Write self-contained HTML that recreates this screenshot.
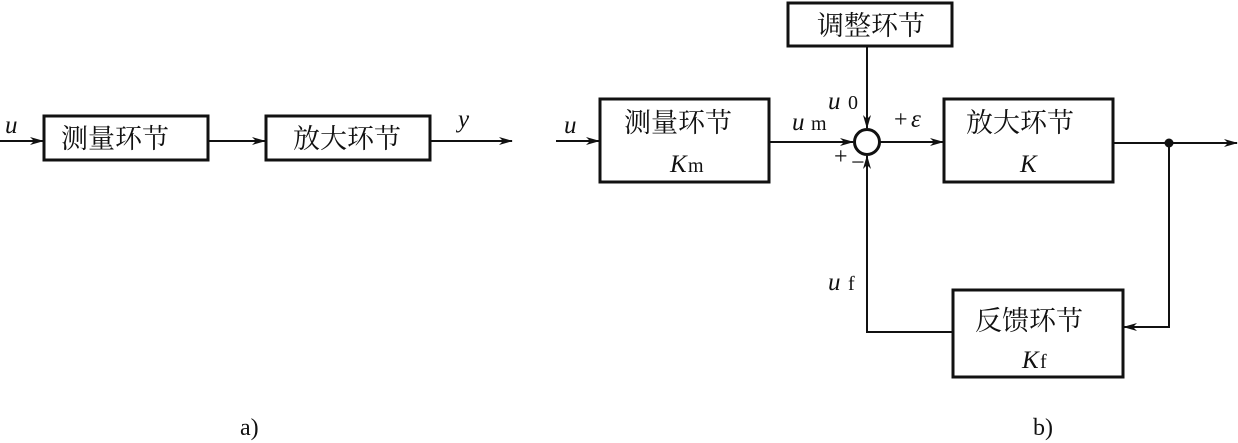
<!DOCTYPE html>
<html><head><meta charset="utf-8"><style>
body{margin:0;background:#fff;}
svg{display:block}
.cj{font-family:"Liberation Serif","Noto Serif CJK SC",serif;font-size:27px;fill:#111;}
.it{font-family:"Liberation Serif",serif;font-style:italic;font-size:25px;fill:#111;}
.rm{font-family:"Liberation Serif",serif;font-size:20px;fill:#111;}
</style></head><body>
<svg width="1238" height="443" viewBox="0 0 1238 443" xmlns="http://www.w3.org/2000/svg">
<defs><marker id="a" markerWidth="14" markerHeight="10" refX="13" refY="5" orient="auto" markerUnits="userSpaceOnUse"><path d="M0,1 L14,5 L0,9 L4,5 Z" fill="#111"/></marker></defs>
<g stroke="#111" fill="none">
<!-- a -->
<rect x="44" y="116" width="164" height="44" stroke-width="3"/>
<rect x="266" y="116" width="164" height="44" stroke-width="3"/>
<line x1="0" y1="141" x2="43" y2="141" stroke-width="2" marker-end="url(#a)"/>
<line x1="208" y1="141" x2="265" y2="141" stroke-width="2" marker-end="url(#a)"/>
<line x1="430" y1="141" x2="512" y2="141" stroke-width="2" marker-end="url(#a)"/>
<!-- b -->
<rect x="788" y="3" width="164" height="43" stroke-width="3"/>
<rect x="600" y="99" width="169" height="83" stroke-width="3"/>
<rect x="944" y="99" width="169" height="83" stroke-width="3"/>
<rect x="953" y="290" width="170" height="87" stroke-width="3"/>
<circle cx="867" cy="142" r="12.5" stroke-width="3"/>
<line x1="867" y1="46" x2="867" y2="128" stroke-width="2" marker-end="url(#a)"/>
<line x1="556" y1="141" x2="599" y2="141" stroke-width="2" marker-end="url(#a)"/>
<line x1="769" y1="142" x2="853" y2="142" stroke-width="2" marker-end="url(#a)"/>
<line x1="880" y1="142" x2="943" y2="142" stroke-width="2" marker-end="url(#a)"/>
<line x1="1113" y1="143" x2="1237" y2="143" stroke-width="2" marker-end="url(#a)"/>
<polyline points="1169,143 1169,327 1124,327" stroke-width="2" marker-end="url(#a)"/>
<polyline points="953,332 867,332 867,156" stroke-width="2" marker-end="url(#a)"/>
</g>
<circle cx="1169" cy="143" r="4.5" fill="#111"/>
<g>
<text class="cj" x="61" y="148">测量环节</text>
<text class="cj" x="293" y="148">放大环节</text>
<text class="it" x="5" y="133">u</text>
<text class="it" x="458" y="127">y</text>
<text class="cj" x="817" y="35">调整环节</text>
<text class="cj" x="624" y="132">测量环节</text>
<text class="it" x="670" y="172">K</text><text class="rm" x="688" y="172">m</text>
<text class="cj" x="966" y="132">放大环节</text>
<text class="it" x="1020" y="172">K</text>
<text class="cj" x="975" y="330">反馈环节</text>
<text class="it" x="1022" y="368">K</text><text class="rm" x="1040" y="368">f</text>
<text class="it" x="564" y="133">u</text>
<text class="it" x="792" y="130">u</text><text class="rm" x="811" y="130">m</text>
<text class="it" x="828" y="109">u</text><text class="rm" x="848" y="109">0</text>
<text class="rm" x="894" y="127" style="font-size:24px">+</text><text class="it" x="911" y="127">ε</text>
<text class="rm" x="834" y="164" style="font-size:24px">+</text>
<text class="rm" x="851" y="170" style="font-size:24px">−</text>
<text class="it" x="828" y="290">u</text><text class="rm" x="848" y="290">f</text>
<text class="rm" x="240" y="435" style="font-size:24px">a)</text>
<text class="rm" x="1033" y="435" style="font-size:24px">b)</text>
</g>
</svg>
</body></html>
